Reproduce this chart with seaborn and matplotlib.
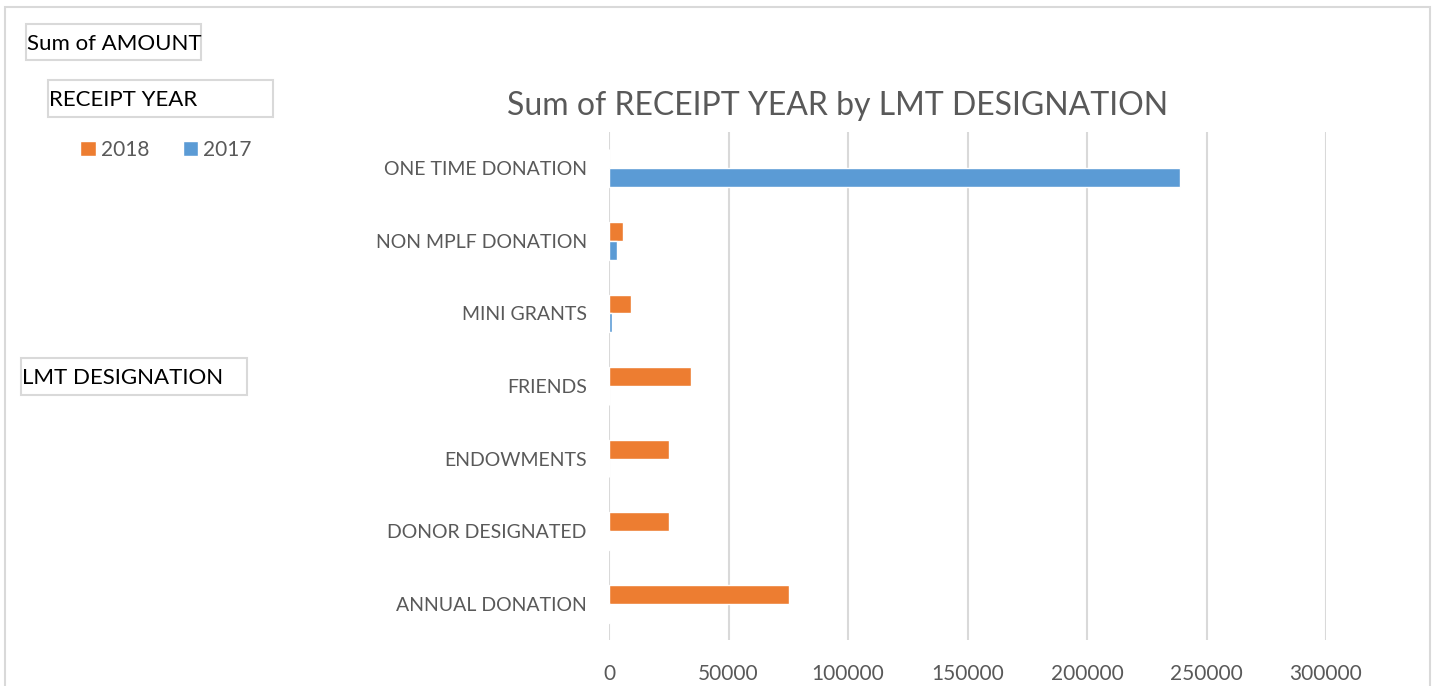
import numpy as np
import pandas as pd
import matplotlib
matplotlib.use("Agg")
import matplotlib.pyplot as plt
from matplotlib.patches import Rectangle
import seaborn as sns

# values
categories = ["ONE TIME DONATION", "NON MPLF DONATION", "MINI GRANTS", "FRIENDS",
              "ENDOWMENTS", "DONOR DESIGNATED", "ANNUAL DONATION"]
amount_2018 = [0, 5900, 9200, 34300, 25100, 25200, 75400]
amount_2017 = [239000, 3300, 1200, 0, 0, 500, 500]
years = ["2018", "2017"]
x_ticks = [0, 50000, 100000, 150000, 200000, 250000, 300000]

ORANGE = "#ED7D31"
BLUE = "#5B9BD5"
GRAY_TXT = "#595959"
GRID = "#D9D9D9"

df = pd.DataFrame({
    "LMT DESIGNATION": categories * 2,
    "RECEIPT YEAR": ["2018"] * len(categories) + ["2017"] * len(categories),
    "AMOUNT": amount_2018 + amount_2017,
})

sns.set_theme(style="white")
plt.rcParams["font.family"] = ["Lato", "DejaVu Sans"]

W, H = 1433, 686
fig = plt.figure(figsize=(W / 100, H / 100), dpi=100)
ax = fig.add_axes([609 / W, 1 - 640 / H, (1326 - 609) / W, (640 - 132) / H])

sns.barplot(data=df, y="LMT DESIGNATION", x="AMOUNT", hue="RECEIPT YEAR",
            order=categories, hue_order=years, palette=[ORANGE, BLUE],
            saturation=1, width=0.52, orient="h", errorbar=None, ax=ax)

ax.set_xlim(0, 300000)
ax.set_xticks(x_ticks)
ax.set_xticklabels([str(t) for t in x_ticks])
ax.xaxis.grid(True, color=GRID, linewidth=1.5)
ax.set_axisbelow(True)
for s in ax.spines.values():
    s.set_visible(False)
ax.tick_params(axis="both", length=0, labelsize=14, labelcolor=GRAY_TXT)
ax.tick_params(axis="x", labelsize=15, pad=17)
ax.tick_params(axis="y", pad=16)
ax.set_xlabel("")
ax.set_ylabel("")
ax.set_title("Sum of RECEIPT YEAR by LMT DESIGNATION", fontsize=23,
             color=GRAY_TXT, x=(838 - 609) / (1326 - 609), pad=12)

# legend outside the plot, top-left
handles, labels = ax.get_legend_handles_labels()
ax.legend(handles, labels, loc="center left", ncol=2, frameon=False,
          bbox_to_anchor=(80 / W, 1 - 150 / H), bbox_transform=fig.transFigure,
          borderaxespad=0, borderpad=0,
          fontsize=15, labelcolor=GRAY_TXT, handlelength=0.75, handleheight=0.75,
          handletextpad=0.25, columnspacing=1.6)


def px_box(x0, y0, x1, y1, text, tx):
    fig.add_artist(Rectangle((x0 / W, 1 - y1 / H), (x1 - x0) / W, (y1 - y0) / H,
                             transform=fig.transFigure, fill=False,
                             edgecolor=GRID, linewidth=1.5))
    fig.text(tx / W, 1 - ((y0 + y1) / 2 + 2) / H, text, fontsize=16, color="black",
             ha="left", va="center")


px_box(26, 24, 201, 60, "Sum of AMOUNT", 27)
px_box(48, 80, 273, 117, "RECEIPT YEAR", 49)
px_box(21, 358, 247, 395, "LMT DESIGNATION", 22)

# outer chart frame
fig.add_artist(Rectangle((5 / W, -0.05), (1430 - 5) / W, 1.05 - 7 / H,
                         transform=fig.transFigure, fill=False,
                         edgecolor=GRID, linewidth=1.5, clip_on=False))

fig.savefig("out.png", dpi=100)
